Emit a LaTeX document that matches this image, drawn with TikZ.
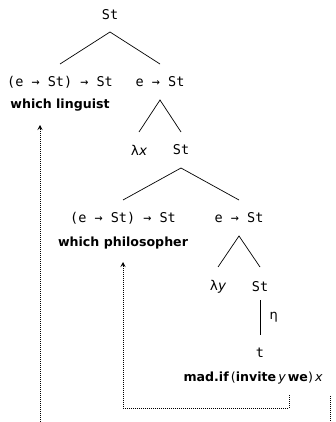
\documentclass[tikz,border=0pt]{standalone}
\usepackage{fontspec}
\setmainfont{DejaVu Sans}
\newfontfamily\tyfont{DejaVu Sans Mono}
\usetikzlibrary{arrows.meta}
\begin{document}
\begin{tikzpicture}[x=1pt,y=-1pt,
  ty/.style={font=\tyfont\fontsize{13.5}{15}\selectfont, inner sep=0pt},
  tm/.style={font=\bfseries\fontsize{12.6}{14}\selectfont, inner sep=0pt},
  br/.style={line width=0.7pt},
  mv/.style={line width=0.7pt, dash pattern=on 0.8pt off 1.2pt, -{Stealth[length=5pt,width=5pt,inset=2pt]}},
  mvp/.style={line width=0.7pt, dash pattern=on 0.8pt off 1.2pt}]
\useasboundingbox (0,0) rectangle (336,422);
\node[ty] (root) at (110,15) {St};
\node[ty] (q1) at (60,82) {(e → St) → St};
\node[tm] (w1) at (60,105) {which linguist};
\node[ty] (f1) at (160,82) {e → St};
\node[ty] (lx) at (139,150) {λ{\normalfont\itshape x}};
\node[ty] (s1) at (181,150) {St};
\node[ty] (q2) at (123,218) {(e → St) → St};
\node[tm] (w2) at (123,243) {which philosopher};
\node[ty] (f2) at (239,218) {e → St};
\node[ty] (ly) at (218,287) {λ{\normalfont\itshape y}};
\node[ty] (s2) at (260,287) {St};
\node[ty] (t) at (260,353) {t};
\node[tm] (m) at (253,378) {mad.if\,{\mdseries(}invite\,{\mdseries\itshape y}\,we{\mdseries)}\,{\mdseries\itshape x}};
\draw[br] (f1|-0,64) -- (root|-0,32) -- (q1|-0,64);
\draw[br] (lx|-0,132) -- (f1|-0,100) -- (s1|-0,132);
\draw[br] (q2|-0,200) -- (s1|-0,168) -- (f2|-0,200);
\draw[br] (ly|-0,267) -- (f2|-0,236) -- (s2|-0,267);
\draw[br] (s2|-0,300) -- node[right=6pt, font=\fontsize{13}{15}\selectfont] (eta) {η} (t|-0,335);
\coordinate (e1) at (40,422);
\coordinate (a1) at (w1|-40,125);
\draw[mv] (e1) -- (e1|-a1);
\coordinate (m1) at (289,395);
\coordinate (c1) at (289,408);
\draw[mv] (m1) -- (c1) -| (w2|-0,262);
\coordinate (m2) at (330,396);
\coordinate (e2) at (330,422);
\draw[mvp] (m2) -- (e2);
\end{tikzpicture}
\end{document}
